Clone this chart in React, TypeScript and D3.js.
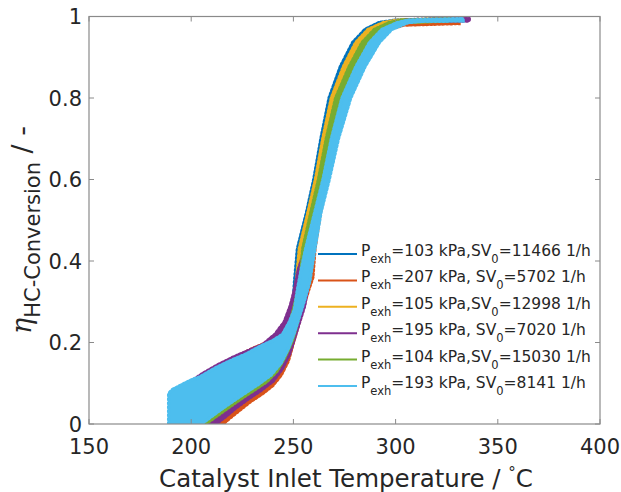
import React from 'react';
import * as d3 from 'd3';

const W = 621;
const H = 492;

const xTicks = [150, 200, 250, 300, 350, 400];
const yTicks = [0, 0.2, 0.4, 0.6, 0.8, 1];
const yTickLabels = ['0', '0.2', '0.4', '0.6', '0.8', '1'];

const seriesColors = ['#0072BD', '#D95319', '#EDB120', '#7E2F8E', '#77AC30', '#4DBEEE'];
const legendPressure = ['103', '207', '105', '195', '104', '193'];
const legendSep = [',', ', ', ',', ', ', ',', ', '];
const legendSV = ['11466', '5702', '12998', '7020', '15030', '8141'];

type P = [number, number];

// Outline of each measured band: left/upper edge and right/lower edge, [T in °C, eta]
const blueLeft: P[] = [[200,0],[201,0.03],[210,0.06],[220,0.085],[230,0.11],[238,0.135],[244,0.17],[247.5,0.22],[249.5,0.27],[250.6,0.35],[252,0.43],[256.5,0.52],[260,0.6],[263.5,0.7],[267.5,0.8],[273,0.877],[279,0.936],[285,0.968],[292,0.985],[300,0.991],[328,0.995]];
const blueRight: P[] = [[204,0],[210,0.022],[220,0.05],[230,0.077],[238,0.102],[244,0.135],[248,0.18],[251,0.23],[253,0.28],[254.2,0.35],[255.6,0.43],[259.3,0.52],[262.8,0.6],[266.7,0.7],[271.5,0.8],[278,0.877],[284.5,0.936],[290.8,0.968],[298,0.985],[328,0.99]];

const orangeLeft: P[] = [[191,0],[191.5,0.08],[198,0.1],[206,0.12],[214,0.14],[222,0.165],[230,0.185],[237,0.2],[243,0.225],[247,0.26],[249.5,0.3],[251.5,0.35],[255.8,0.43],[259.7,0.52],[263.4,0.6],[267.3,0.7],[272.2,0.8],[279,0.877],[285.4,0.936],[291.4,0.968],[298.9,0.982],[304,0.988],[331,0.99]];
const orangeRight: P[] = [[215.5,0],[219,0.015],[224,0.035],[229,0.055],[235,0.075],[240,0.095],[244,0.12],[247.5,0.155],[250,0.2],[252.5,0.245],[255,0.29],[257.5,0.33],[259.5,0.36],[260.5,0.43],[263.2,0.52],[266.8,0.6],[271.2,0.7],[276.9,0.8],[283.4,0.877],[290.2,0.936],[296.2,0.968],[304,0.979],[331,0.983]];

const yellowLeft: P[] = [[199,0],[200,0.035],[210,0.065],[220,0.09],[230,0.115],[238,0.14],[244,0.175],[247.5,0.225],[250,0.28],[251.5,0.35],[252.9,0.43],[257.2,0.52],[260.8,0.6],[264.4,0.7],[268.6,0.8],[274.5,0.877],[280.5,0.936],[286.5,0.968],[294,0.985],[301,0.991],[330,0.995]];
const yellowRight: P[] = [[203,0],[210,0.024],[220,0.052],[230,0.079],[238,0.104],[244.5,0.138],[248.5,0.183],[251.5,0.233],[253.5,0.285],[255,0.35],[256.3,0.43],[260,0.52],[263.8,0.6],[267.8,0.7],[272.8,0.8],[279.5,0.877],[286,0.936],[292,0.968],[299.5,0.985],[330,0.99]];

const purpleLeft: P[] = [[193,0],[194,0.08],[200,0.105],[206,0.125],[213,0.145],[221,0.165],[228,0.18],[235,0.195],[241,0.22],[245.5,0.25],[248.5,0.29],[250.6,0.33],[252.5,0.38],[255.8,0.43],[259.7,0.52],[263.4,0.6],[267.3,0.7],[272.2,0.8],[279,0.877],[285.4,0.936],[291.4,0.968],[298.9,0.985],[306,0.992],[336,0.995]];
const purpleRight: P[] = [[212,0],[216,0.015],[222,0.04],[228,0.062],[234,0.082],[240,0.105],[244.5,0.135],[248,0.17],[250.5,0.21],[253,0.25],[255.5,0.29],[257.5,0.35],[258.8,0.43],[262.1,0.52],[266,0.6],[270.3,0.7],[275.9,0.8],[282.8,0.877],[289.6,0.936],[295.6,0.968],[303.4,0.985],[310,0.988],[336,0.989]];

const greenLeft: P[] = [[201,0],[203,0.04],[212,0.07],[222,0.095],[231,0.12],[238,0.145],[243.5,0.18],[247.5,0.23],[250.5,0.29],[253.3,0.35],[254.6,0.43],[258.6,0.52],[262.3,0.6],[266.1,0.7],[270.7,0.8],[277.3,0.877],[283.6,0.936],[289.6,0.968],[296.9,0.985],[303,0.991],[326,0.994]];
const greenRight: P[] = [[207,0],[212,0.018],[219,0.043],[225,0.064],[231,0.084],[237,0.104],[242,0.13],[246,0.165],[249.5,0.205],[252,0.25],[254.5,0.295],[256.8,0.35],[258,0.43],[261.4,0.52],[265.3,0.6],[269.5,0.7],[274.9,0.8],[281.7,0.877],[288.4,0.936],[294.4,0.968],[302.1,0.985],[326,0.989]];

const cyanLeft: P[] = [[189,0],[189,0.075],[191,0.085],[200,0.108],[204,0.115],[212,0.138],[220,0.157],[227,0.172],[233.5,0.19],[240,0.205],[244.7,0.22],[248,0.25],[250.5,0.28],[252,0.33],[253.5,0.37],[256,0.43],[260.5,0.52],[264.5,0.6],[268.6,0.7],[273.8,0.8],[280.6,0.877],[287.2,0.936],[293.2,0.968],[300.8,0.985],[306,0.991],[333,0.995]];
const cyanRight: P[] = [[205,0],[209,0.015],[215,0.037],[221,0.058],[227,0.078],[233,0.098],[239,0.12],[244,0.15],[247.5,0.185],[250.5,0.225],[253,0.265],[255.5,0.305],[258,0.35],[260.5,0.43],[263.5,0.52],[267.5,0.6],[272,0.7],[278,0.8],[285,0.877],[292,0.936],[298,0.968],[306,0.985],[312,0.988],[333,0.989]];

const bandLeft = [blueLeft, orangeLeft, yellowLeft, purpleLeft, greenLeft, cyanLeft];
const bandRight = [blueRight, orangeRight, yellowRight, purpleRight, greenRight, cyanRight];

const FONT = '"DejaVu Sans", "Liberation Sans", sans-serif';
const TXT = '#262626';

export default function App() {
  const x = d3.scaleLinear().domain([150, 400]).range([89, 600]);
  const y = d3.scaleLinear().domain([0, 1]).range([424, 16.5]);
  const line = d3.line<P>().x(d => x(d[0])).y(d => y(d[1])).curve(d3.curveLinearClosed);

  const polys = bandLeft.map((l, i) => [...l, ...bandRight[i].slice().reverse()] as P[]);
  const legendY = (i: number) => 254 + i * 26.4;

  return (
    <svg width={W} height={H} style={{ position: 'absolute', left: 0, top: 0, background: '#fff' }} fontFamily={FONT}>
      <rect x={0} y={0} width={W} height={H} fill="#fff" />
      <defs>
        <clipPath id="plotclip">
          <rect x={89} y={16.5} width={511} height={407.5} />
        </clipPath>
      </defs>
      <g clipPath="url(#plotclip)">
        {polys.map((p, i) => (
          <g key={i}>
            <path d={line(p) || ''} fill={seriesColors[i]} stroke={seriesColors[i]} strokeWidth={1.5} strokeLinejoin="round" />
            <path d={line(p) || ''} fill="none" stroke={seriesColors[i]} strokeWidth={3.5} strokeDasharray="1.5 2.5" strokeLinecap="round" />
          </g>
        ))}
      </g>
      {/* axes box */}
      <rect x={89} y={16.5} width={511} height={407.5} fill="none" stroke="#8a8a8a" strokeWidth={1.2} />
      {xTicks.map(t => (
        <g key={'x' + t}>
          <line x1={x(t)} x2={x(t)} y1={424} y2={419} stroke="#8a8a8a" strokeWidth={1} />
          <line x1={x(t)} x2={x(t)} y1={16.5} y2={21.5} stroke="#8a8a8a" strokeWidth={1} />
          <text x={x(t)} y={454} textAnchor="middle" fontSize={21} fill={TXT}>{t}</text>
        </g>
      ))}
      {yTicks.map((t, i) => (
        <g key={'y' + t}>
          <line x1={89} x2={94} y1={y(t)} y2={y(t)} stroke="#8a8a8a" strokeWidth={1} />
          <line x1={600} x2={595} y1={y(t)} y2={y(t)} stroke="#8a8a8a" strokeWidth={1} />
          <text x={82} y={y(t)} dy="0.36em" textAnchor="end" fontSize={21} fill={TXT}>{yTickLabels[i]}</text>
        </g>
      ))}
      <text x={346} y={487} textAnchor="middle" fontSize={24.5} fill={TXT}>
        <tspan>Catalyst Inlet Temperature  /  </tspan>
        <tspan fontSize={15} dy={-9}>°</tspan>
        <tspan dy={9}>C</tspan>
      </text>
      <g transform="translate(31,334) rotate(-90)">
        <text x={0} y={0} fontSize={27} fill={TXT}>
          <tspan fontStyle="italic" fontFamily='"DejaVu Serif", serif'>η</tspan>
          <tspan fontSize={21} dy={9}>HC-Conversion</tspan>
          <tspan dy={-9}>{'  /  -'}</tspan>
        </text>
      </g>
      {/* legend */}
      {legendPressure.map((p, i) => (
        <g key={'leg' + i}>
          <line x1={318} x2={357} y1={legendY(i)} y2={legendY(i)} stroke={seriesColors[i]} strokeWidth={2} />
          <text x={361} y={legendY(i) + 2} fontSize={15.5} fill={TXT}>
            <tspan>P</tspan>
            <tspan fontSize={11.5} dy={7}>exh</tspan>
            <tspan dy={-7}>{`=${p} kPa${legendSep[i]}SV`}</tspan>
            <tspan fontSize={11.5} dy={7}>0</tspan>
            <tspan dy={-7}>{`=${legendSV[i]} 1/h`}</tspan>
          </text>
        </g>
      ))}
    </svg>
  );
}
